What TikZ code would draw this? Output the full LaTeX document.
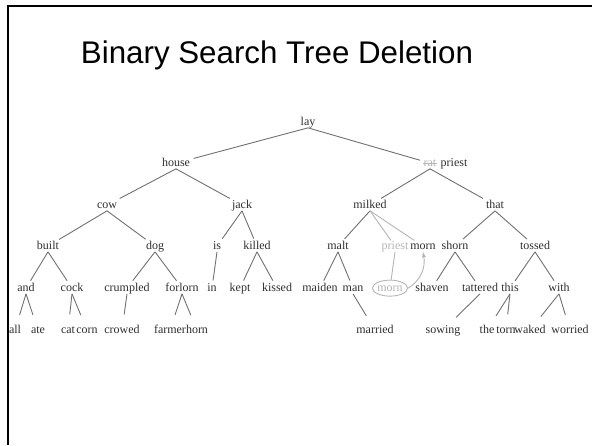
\documentclass[tikz,border=0pt]{standalone}
\usepackage{fontspec}
\setmainfont{Liberation Serif}
\newfontfamily\titlefont{Liberation Sans}
\usetikzlibrary{shapes.geometric,positioning}
\definecolor{inkgray}{HTML}{2E2E2E}
\definecolor{linegray}{HTML}{707070}
\definecolor{fadegray}{HTML}{B4B4B4}

\begin{document}
\begin{tikzpicture}[x=1pt,y=-1pt,
    word/.style={font=\fontsize{12}{14}\selectfont, text=inkgray, anchor=base,
                 inner sep=1.5pt, text height=1.5ex, text depth=.25ex},
    faded/.style={word, text=fadegray},
    edge/.style={draw=linegray, line width=0.9pt, shorten >=2pt},
    leafedge/.style={edge, shorten >=10pt},
    gone/.style={draw=fadegray, line width=0.9pt}]
    \useasboundingbox (0,0) rectangle (592,445);

    % slide frame and title
    \draw[line width=2.5pt] (8,445) -- (8,6) -- (592,6);
    \node[font=\titlefont\fontsize{31.3}{36}\selectfont, anchor=base] (title) at (277,63) {Binary Search Tree Deletion};

    % levels 1 to 3
    \node[word] (lay) at (308,125) {lay};
    \node[word] (house) at (176,166) {house};
    \node[faded] (rat) at (430,166) {rat};
    \node[word, right=1pt of rat] (priest) {priest};
    \node[word] (cow) at (107,208) {cow};
    \node[word] (jack) at (242,208) {jack};
    \node[word] (milked) at (370,208) {milked};
    \node[word] (that) at (495,208) {that};

    % level 4
    \node[word] (built) at (48,249) {built};
    \node[word] (dog) at (155,249) {dog};
    \node[word] (is) at (217,249) {is};
    \node[word] (killed) at (257,249) {killed};
    \node[word] (malt) at (338,249) {malt};
    \node[faded] (oldpriest) at (395,249) {priest};
    \node[word] (newmorn) at (423,249) {morn};
    \node[word] (shorn) at (455,249) {shorn};
    \node[word] (tossed) at (535,249) {tossed};

    % level 5
    \node[word] (and) at (26,291) {and};
    \node[word] (cock) at (72,291) {cock};
    \node[word] (crumpled) at (127,291) {crumpled};
    \node[word] (forlorn) at (182,291) {forlorn};
    \node[word] (in) at (212,291) {in};
    \node[word] (kept) at (240,291) {kept};
    \node[word] (kissed) at (277,291) {kissed};
    \node[word] (maiden) at (320,291) {maiden};
    \node[word] (man) at (353,291) {man};
    \node[faded] (oldmorn) at (390,291) {morn};
    \node[ellipse, draw=fadegray, line width=0.9pt, minimum width=35pt, minimum height=16pt,
          inner sep=0pt] (ring) at (oldmorn) {};
    \node[word] (shaven) at (432,291) {shaven};
    \node[word] (tattered) at (480,291) {tattered};
    \node[word] (this) at (510,291) {this};
    \node[word] (with) at (559,291) {with};

    % level 6
    \node[word] (all) at (15,333) {all};
    \node[word] (ate) at (38,333) {ate};
    \node[word] (cat) at (68,333) {cat};
    \node[word] (corn) at (87,333) {corn};
    \node[word] (crowed) at (122,333) {crowed};
    \node[word] (farmer) at (170,333) {farmer};
    \node[word] (horn) at (197,333) {horn};
    \node[word] (married) at (375,333) {married};
    \node[word] (sowing) at (443,333) {sowing};
    \node[word] (the) at (487,333) {the};
    \node[word] (torn) at (506,333) {torn};
    \node[word] (waked) at (530,333) {waked};
    \node[word] (worried) at (570,333) {worried};

    % links
    \draw[edge] (lay.south) -- (house);
    \draw[edge] (lay.south) -- (rat);
    \draw[edge] (house.south) -- (cow);
    \draw[edge] (house.south) -- (jack);
    \draw[edge] (rat.south) -- (milked);
    \draw[edge] (rat.south) -- (that);
    \draw[edge] (cow.south) -- (built);
    \draw[edge] (cow.south) -- (dog);
    \draw[edge] (jack.south) -- (is);
    \draw[edge] (jack.south) -- (killed);
    \draw[edge] (milked.south) -- (malt);
    \draw[edge] (that.south) -- (shorn);
    \draw[edge] (that.south) -- (tossed);
    \draw[edge] (built.south) -- (and);
    \draw[edge] (built.south) -- (cock);
    \draw[edge] (dog.south) -- (crumpled);
    \draw[edge] (dog.south) -- (forlorn);
    \draw[edge] (is.south) -- (in);
    \draw[edge] (killed.south) -- (kept);
    \draw[edge] (killed.south) -- (kissed);
    \draw[edge] (malt.south) -- (maiden);
    \draw[edge] (malt.south) -- (man);
    \draw[edge] (shorn.south) -- (shaven);
    \draw[edge] (shorn.south) -- (tattered);
    \draw[edge] (tossed.south) -- (this);
    \draw[edge] (tossed.south) -- (with);
    \draw[leafedge] (and.south) -- (all);
    \draw[leafedge] (and.south) -- (ate);
    \draw[leafedge] (cock.south) -- (cat);
    \draw[leafedge] (cock.south) -- (corn);
    \draw[leafedge] (crumpled.south) -- (crowed);
    \draw[leafedge] (forlorn.south) -- (farmer);
    \draw[leafedge] (forlorn.south) -- (horn);
    \draw[leafedge] (man.south) -- (married);
    \draw[leafedge] (tattered.south) -- (sowing);
    \draw[leafedge] (this.south) -- (the);
    \draw[leafedge] (this.south) -- (torn);
    \draw[leafedge] (with.south) -- (waked);
    \draw[leafedge] (with.south) -- (worried);

    % the deletion
    \draw[gone] ([xshift=1pt]rat.west) -- ([xshift=-1pt]rat.east);
    \draw[gone] (milked.south) -- (oldpriest);
    \draw[gone] (milked.south) -- (newmorn);
    \draw[gone] (oldpriest.south) -- (ring);
    \draw[gone, -latex] (ring.east) to[out=30, in=-80] (newmorn.south);
\end{tikzpicture}
\end{document}
